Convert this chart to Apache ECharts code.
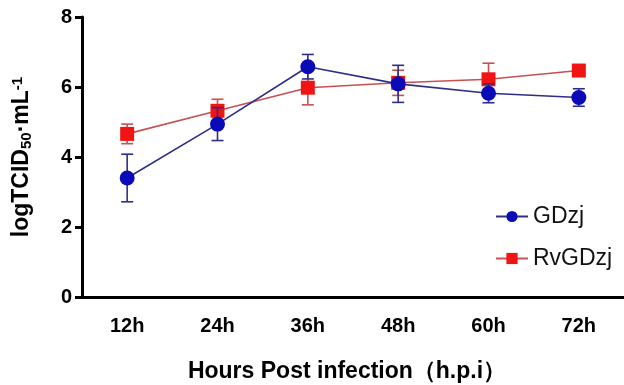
<!DOCTYPE html>
<html><head><meta charset="utf-8">
<script src="https://cdn.jsdelivr.net/npm/echarts@6/dist/echarts.min.js"></script>
<style>html,body{margin:0;padding:0;background:#fff}#c{width:624px;height:385px}</style>
</head><body><div id="c"></div>
<script>
const categories = ['12h','24h','36h','48h','60h','72h'];
const gdzjMean = [3.40, 4.94, 6.58, 6.09, 5.82, 5.70];
const gdzjErr  = [0.68, 0.47, 0.35, 0.53, 0.27, 0.25];
const rvMean   = [4.66, 5.32, 5.98, 6.12, 6.22, 6.47];
const rvErr    = [0.28, 0.33, 0.49, 0.36, 0.46, 0.08];
const yTicks = [0, 2, 4, 6, 8];

const blueLine = '#2e2e88', blueMark = '#0a0ab8';
const redLine = '#c85050', redMark = '#f01414';

function errSeries(name, mean, err, color, z) {
  return {
    type: 'custom', name: name + ' err', z: z, silent: true,
    data: mean.map((m, i) => [i, m - err[i], m + err[i]]),
    renderItem: function (params, api) {
      const lo = api.coord([api.value(0), api.value(1)]);
      const hi = api.coord([api.value(0), api.value(2)]);
      const w = 6;
      const st = { stroke: color, lineWidth: 1.6 };
      return { type: 'group', children: [
        { type: 'line', shape: { x1: lo[0], y1: lo[1], x2: hi[0], y2: hi[1] }, style: st },
        { type: 'line', shape: { x1: lo[0]-w, y1: lo[1], x2: lo[0]+w, y2: lo[1] }, style: st },
        { type: 'line', shape: { x1: hi[0]-w, y1: hi[1], x2: hi[0]+w, y2: hi[1] }, style: st }
      ]};
    }
  };
}

const chart = echarts.init(document.getElementById('c'));
chart.setOption({
  animation: false,
  grid: { left: 82, right: 0, top: 17, bottom: 88, containLabel: false, outerBoundsMode: 'none' },
  legend: {
    orient: 'vertical', left: 490, top: 199, itemGap: 17,
    itemWidth: 32, itemHeight: 14,
    textStyle: { fontFamily: 'Liberation Sans, Arial', fontSize: 23, color: '#111', lineHeight: 25 },
    data: ['GDzj', 'RvGDzj']
  },
  xAxis: {
    type: 'category', data: categories, boundaryGap: true,
    name: 'Hours Post infection（h.p.i）', nameLocation: 'middle', nameGap: 63,
    nameTextStyle: { fontFamily: 'Liberation Sans, Arial', fontWeight: 'bold', fontSize: 23, color: '#000', padding: [0, 12, 0, 0] },
    axisLine: { lineStyle: { color: '#000', width: 3 } },
    axisTick: { alignWithLabel: true, length: 8, lineStyle: { color: '#000', width: 3 } },
    axisLabel: { fontFamily: 'Liberation Sans, Arial', fontWeight: 'bold', fontSize: 20, color: '#000', margin: 19 }
  },
  yAxis: {
    type: 'value', min: yTicks[0], max: yTicks[yTicks.length-1], interval: 2,
    name: '{b|logTCID}{sub|50}{b|·mL}{sup|-1}', nameLocation: 'middle', nameGap: 48, nameRotate: 90,
    nameTextStyle: {
      rich: {
        b: { fontFamily: 'Liberation Sans, Arial', fontWeight: 'bold', fontSize: 23, color: '#000' },
        sub: { fontFamily: 'Liberation Sans, Arial', fontWeight: 'bold', fontSize: 15, color: '#000', verticalAlign: 'bottom', padding: [9, 0, 0, 0] },
        sup: { fontFamily: 'Liberation Sans, Arial', fontWeight: 'bold', fontSize: 15, color: '#000', verticalAlign: 'top', padding: [0, 0, 9, 0] }
      }
    },
    splitLine: { show: false },
    axisLine: { show: true, lineStyle: { color: '#000', width: 3 } },
    axisTick: { show: true, length: 7, lineStyle: { color: '#000', width: 3 } },
    axisLabel: { fontFamily: 'Liberation Sans, Arial', fontWeight: 'bold', fontSize: 20, color: '#000', margin: 10 }
  },
  series: [
    errSeries('RvGDzj', rvMean, rvErr, redLine, 2),
    { type: 'line', name: 'RvGDzj', data: rvMean, z: 3, symbol: 'rect', symbolSize: 14,
      lineStyle: { color: redLine, width: 1.6 }, itemStyle: { color: redMark } },
    errSeries('GDzj', gdzjMean, gdzjErr, blueLine, 4),
    { type: 'line', name: 'GDzj', data: gdzjMean, z: 5, symbol: 'circle', symbolSize: 15,
      lineStyle: { color: blueLine, width: 1.6 }, itemStyle: { color: blueMark } }
  ]
});
</script></body></html>
